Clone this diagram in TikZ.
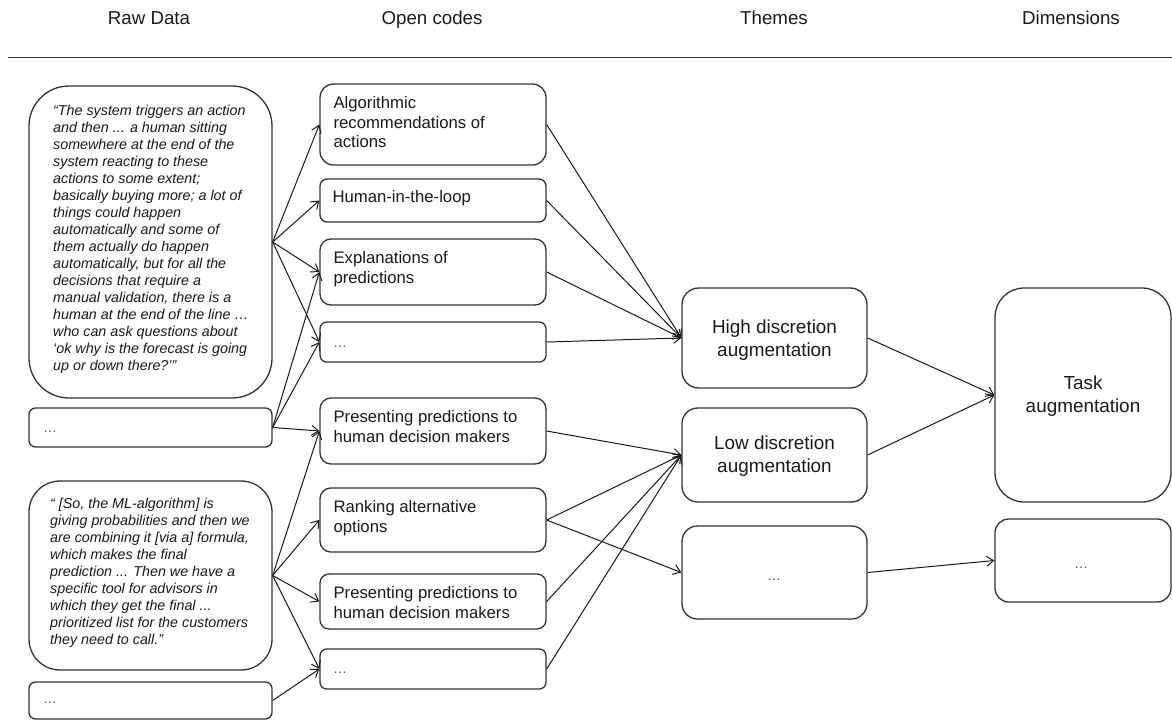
\documentclass[tikz,border=0pt]{standalone}
\usepackage{fontspec}
\setmainfont{Liberation Sans}
\usetikzlibrary{arrows.meta}
\definecolor{ink}{HTML}{1A1A1A}
\definecolor{frame}{HTML}{333333}

\begin{document}
\begin{tikzpicture}[x=1pt,y=-1pt,
  box/.style={draw=frame, line width=1.3pt, inner sep=0pt, fill=white},
  rawbox/.style={box, minimum width=243pt},
  codebox/.style={box, minimum width=226pt},
  themebox/.style={box, minimum width=185pt},
  dimbox/.style={box, minimum width=176pt},
  conn/.style={draw=ink, line width=1pt, -{Straight Barb[length=7pt,width=10pt]}},
  head/.style={font=\fontsize{18.7}{22}\selectfont, text=ink, anchor=base, inner sep=0pt},
  quote/.style={font=\itshape\fontsize{14.3}{17}\selectfont, align=left, anchor=west, inner sep=0pt, text=ink},
  codetext/.style={font=\fontsize{16.7}{19.5}\selectfont, align=left, anchor=north west, inner sep=0pt, text=ink},
  themetext/.style={font=\fontsize{18.9}{22.5}\selectfont, align=center, inner sep=0pt, text=ink},
  dots/.style={font=\fontsize{14}{16}\selectfont, text=ink!75, inner sep=0pt}
]
\useasboundingbox (0,0) rectangle (1172,721);

% column headings and rule
\node[head] (h1) at (149,24) {Raw Data};
\node[head] (h2) at (432,24) {Open codes};
\node[head] (h3) at (774,24) {Themes};
\node[head] (h4) at (1071,24) {Dimensions};
\coordinate (ruleL) at (8,57);
\coordinate (ruleR) at (1172,57);
\draw[frame, line width=1pt] (ruleL) -- (ruleR);

% raw data
\node[rawbox, minimum height=312pt, rounded corners=40pt] (r1) at (150.5,242) {};
\node[rawbox, minimum height=39pt, rounded corners=6.5pt] (r2) at (150.5,427.5) {};
\node[rawbox, minimum height=189pt, rounded corners=31pt] (r3) at (150.5,575.5) {};
\node[rawbox, minimum height=37pt, rounded corners=6.5pt] (r4) at (150.5,700.5) {};

\node[quote] (q1) at (53,239) {“The system triggers an action\\
and then ... a human sitting\\
somewhere at the end of the\\
system reacting to these\\
actions to some extent;\\
basically buying more; a lot of\\
things could happen\\
automatically and some of\\
them actually do happen\\
automatically, but for all the\\
decisions that require a\\
manual validation, there is a\\
human at the end of the line …\\
who can ask questions about\\
‘ok why is the forecast is going\\
up or down there?’”};
\node[quote] (q3) at (50,573) {“ [So, the ML-algorithm] is\\
giving probabilities and then we\\
are combining it [via a] formula,\\
which makes the final\\
prediction ...  Then we have a\\
specific tool for advisors in\\
which they get the final ...\\
prioritized list for the customers\\
they need to call.”};
\node[dots, anchor=base west] (d2) at (43,432) {…};
\node[dots, anchor=base west] (d4) at (43,703) {…};

% open codes
\node[codebox, minimum height=81pt, rounded corners=13.5pt] (o1) at (433,124.5) {};
\node[codebox, minimum height=43pt, rounded corners=7pt] (o2) at (433,200.5) {};
\node[codebox, minimum height=66pt, rounded corners=11pt] (o3) at (433,272) {};
\node[codebox, minimum height=40pt, rounded corners=6.7pt] (o4) at (433,342) {};
\node[codebox, minimum height=66pt, rounded corners=11pt] (o5) at (433,431) {};
\node[codebox, minimum height=64pt, rounded corners=10.7pt] (o6) at (433,520) {};
\node[codebox, minimum height=55pt, rounded corners=9pt] (o7) at (433,601.5) {};
\node[codebox, minimum height=40pt, rounded corners=6.7pt] (o8) at (433,669) {};

\node[codetext] (c1) at ([xshift=14pt,yshift=-13pt]o1.north west) {Algorithmic\\recommendations of\\actions};
\node[codetext] (c2) at ([xshift=13pt,yshift=-12pt]o2.north west) {Human-in-the-loop};
\node[codetext] (c3) at ([xshift=14pt,yshift=-13pt]o3.north west) {Explanations of\\predictions};
\node[dots, anchor=base west] (c4) at (333,347) {…};
\node[codetext] (c5) at ([xshift=14pt,yshift=-13pt]o5.north west) {Presenting predictions to\\human decision makers};
\node[codetext] (c6) at ([xshift=14pt,yshift=-13pt]o6.north west) {Ranking alternative\\options};
\node[codetext] (c7) at ([xshift=14pt,yshift=-13pt]o7.north west) {Presenting predictions to\\human decision makers};
\node[dots, anchor=base west] (c8) at (333,673) {…};

% themes
\node[themebox, minimum height=100pt, rounded corners=16.7pt] (t1) at (774.5,338) {};
\node[themebox, minimum height=94pt, rounded corners=15.7pt] (t2) at (774.5,455) {};
\node[themebox, minimum height=93pt, rounded corners=15.5pt] (t3) at (774.5,572.5) {};
\node[themetext] (tt1) at ([yshift=-2pt]t1.center) {High discretion\\augmentation};
\node[themetext] (tt2) at ([yshift=-1pt]t2.center) {Low discretion\\augmentation};
\node[dots, anchor=base] (tt3) at (774,580) {…};

% dimensions
\node[dimbox, minimum height=214pt, rounded corners=29pt] (e1) at (1083,395) {};
\node[dimbox, minimum height=83pt, rounded corners=13.8pt] (e2) at (1083,560.5) {};
\node[themetext] (et1) at ([yshift=-1pt]e1.center) {Task\\augmentation};
\node[dots, anchor=base] (et2) at (1081,568) {…};

% raw data -> open codes
\foreach \t in {o1,o2,o3,o4} \draw[conn] (r1.east) -- (\t.west);
\foreach \t in {o3,o4,o5} \draw[conn] (r2.east) -- (\t.west);
\foreach \t in {o5,o6,o7,o8} \draw[conn] (r3.east) -- (\t.west);
\draw[conn] (r4.east) -- (o8.west);

% open codes -> themes
\foreach \s in {o1,o2,o3,o4} \draw[conn] (\s.east) -- (t1.west);
\foreach \s in {o5,o6,o7,o8} \draw[conn] (\s.east) -- (t2.west);
\draw[conn] (o6.east) -- (t3.west);

% themes -> dimensions
\draw[conn] (t1.east) -- (e1.west);
\draw[conn] (t2.east) -- (e1.west);
\draw[conn] (t3.east) -- (e2.west);
\end{tikzpicture}
\end{document}
